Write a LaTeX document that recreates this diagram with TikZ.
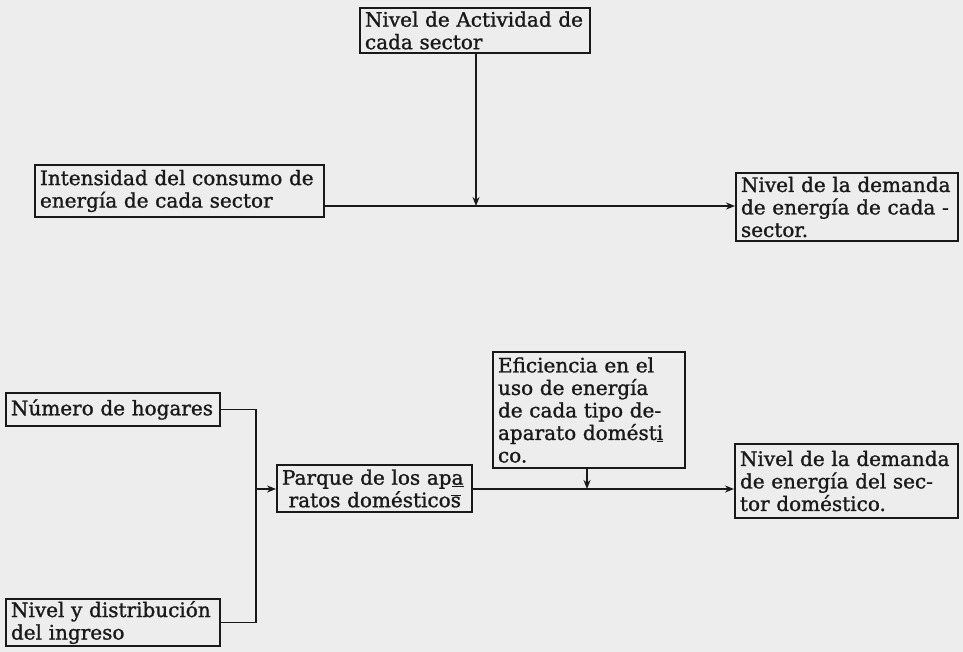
\documentclass[tikz,border=0pt]{standalone}
\usepackage{fontspec}
\setmainfont[FakeBold=1.2,AutoFakeBold=1.2]{DejaVu Serif}
\newfontfamily\typed[FakeBold=1.2]{DejaVu Serif}
\usetikzlibrary{arrows.meta}
\definecolor{paper}{RGB}{237,237,237}
\definecolor{ink}{RGB}{25,25,25}
\tikzset{
  block/.style={draw=ink, line width=2pt, rectangle, align=left, text=ink,
    inner xsep=5pt, inner ysep=2pt,
    font=\typed\fontsize{20}{22.5}\selectfont},
  link/.style={draw=ink, line width=1.8pt},
  arrow/.style={link, -{Stealth[length=9pt,width=7pt]}}
}
\begin{document}
\begin{tikzpicture}[x=1pt,y=-1pt]
  \fill[paper] (0,0) rectangle (963,652);
  \useasboundingbox (0,0) rectangle (963,652);

  % upper scheme: sector demand
  \node[block, minimum width=230, minimum height=45, text width=220] (act) at (475,30.5)
    {Nivel de Actividad de\\cada sector};
  \node[block, minimum width=289, minimum height=52, text width=279] (int) at (179.5,191)
    {Intensidad del consumo de\\energía de cada sector};
  \node[block, minimum width=222, minimum height=68, text width=212] (dem1) at (847,207)
    {Nivel de la demanda\\de energía de cada -\\sector.};
  \coordinate (j1) at (476,206);

  \draw[link] (int.east |- j1) -- (j1);
  \draw[arrow] (j1) -- (dem1.west |- j1);
  \draw[arrow] (act.south -| j1) -- (j1);

  % lower scheme: household demand
  \node[block, minimum width=214, minimum height=33, text width=204] (hog) at (113,409.5)
    {Número de hogares};
  \node[block, minimum width=214, minimum height=45, text width=204] (ing) at (113,622.5)
    {Nivel y distribución\\del ingreso};
  \node[block, minimum width=195, minimum height=47, text width=185] (par) at (374.5,488.5)
    {Parque de los ap\underline{a}\\ \ ratos doméstico\ensuremath{\overline{\mbox{s}}}};
  \node[block, minimum width=192, minimum height=116, text width=182] (efi) at (589,410)
    {Eficiencia en el\\uso de energía\\de cada tipo de-\\aparato domést\underline{i}\\co.};
  \node[block, minimum width=223, minimum height=74, text width=213] (dem2) at (846.5,481)
    {Nivel de la demanda\\de energía del sec-\\tor doméstico.};
  \coordinate (jb) at (256,489);
  \coordinate (j2) at (587,489);

  \draw[link] (hog.east) -| (jb);
  \draw[link] (ing.east) -| (jb);
  \draw[arrow] (jb) -- (par.west |- jb);
  \draw[link] (par.east |- j2) -- (j2);
  \draw[arrow] (j2) -- (dem2.west |- j2);
  \draw[arrow] (efi.south -| j2) -- (j2);
\end{tikzpicture}
\end{document}
